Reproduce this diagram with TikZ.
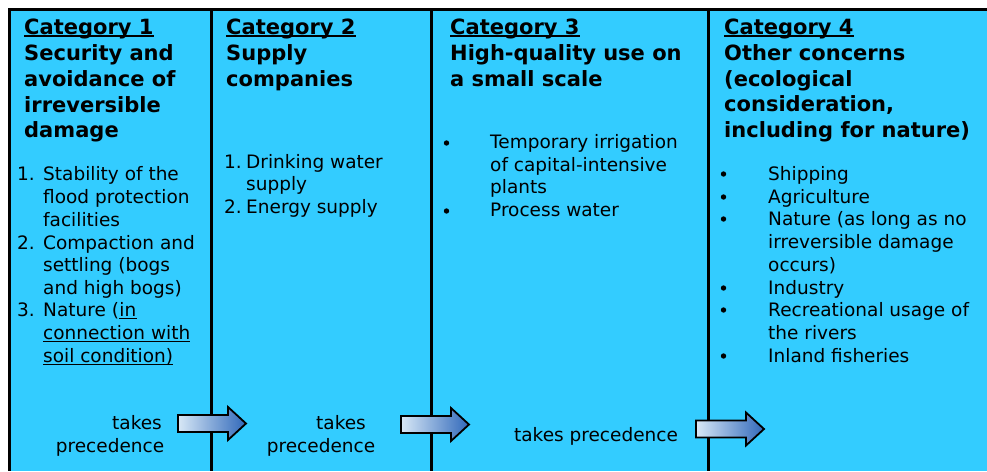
\documentclass[tikz,border=0pt]{standalone}
\usepackage{fontspec}
\setmainfont{DejaVu Sans}
\definecolor{bg}{RGB}{51,204,255}
\definecolor{arL}{RGB}{216,232,246}
\definecolor{arR}{RGB}{48,104,186}
\newcommand\hdfont{\fontsize{21}{25}\selectfont\bfseries}
\newcommand\bdfont{\fontsize{18.5}{22}\selectfont}
\tikzset{
  hd/.style={anchor=base west, inner sep=0pt, font=\hdfont},
  bd/.style={anchor=base west, inner sep=0pt, font=\bdfont},
  prec/.style={anchor=base, inner sep=0pt, font=\bdfont},
  frame/.style={line width=3pt, black},
  catul/.style={line width=1.8pt, black},
  thinul/.style={line width=0.9pt, black},
  bullet/.style={black},
  arrowbox/.style={draw=black, line width=1.8pt, line join=miter, left color=arL, right color=arR}
}
\newcommand\precarrow[2]{%
  \shadedraw[arrowbox] (#1,#2) ++(0,-8.5) -- ++(50,0) -- ++(0,-8) -- ++(18,16.5) -- ++(-18,16.5) -- ++(0,-8) -- ++(-50,0) -- cycle;}
\begin{document}
\begin{tikzpicture}[x=1pt,y=-1pt]
\useasboundingbox (0,0) rectangle (987,471);
\fill[bg] (8,8) rectangle (987,471);
% frame and dividers
\draw[frame] (8,9.5) -- (987,9.5);
\draw[frame] (9.5,8) -- (9.5,471);
\draw[frame] (211,9) -- (211,471);
\draw[frame] (431,9) -- (431,471);
\draw[frame] (708.5,9) -- (708.5,471);

% ---- Column 1
\node[hd] (c1) at (24,34) {Category 1};
\draw[catul] ([yshift=-2pt]c1.base west) -- ([yshift=-2pt]c1.base east);
\node[hd] (h1a) at (24,60) {Security and};
\node[hd] (h1b) at (24,86) {avoidance of};
\node[hd] (h1c) at (24,112) {irreversible};
\node[hd] (h1d) at (24,137) {damage};
\node[bd] (n11) at (17,180) {1.};
\node[bd] (t11a) at (43,180) {Stability of the};
\node[bd] (t11b) at (43,203) {flood protection};
\node[bd] (t11c) at (43,226) {facilities};
\node[bd] (n12) at (17,249) {2.};
\node[bd] (t12a) at (43,249) {Compaction and};
\node[bd] (t12b) at (43,271) {settling (bogs};
\node[bd] (t12c) at (43,294) {and high bogs)};
\node[bd] (n13) at (17,316) {3.};
\node[bd] (t13a) at (43,316) {Nature (};
\node[bd] (t13b) at (t13a.base east) {in};
\node[bd] (t13c) at (43,339) {connection with};
\node[bd] (t13d) at (43,362) {soil condition)};
\draw[thinul] ([yshift=-2pt]t13b.base west) -- ([yshift=-2pt]t13b.base east);
\draw[thinul] ([yshift=-2pt]t13c.base west) -- ([yshift=-2pt]t13c.base east);
\draw[thinul] ([yshift=-2pt]t13d.base west) -- ([yshift=-2pt]t13d.base east);
\node[prec] (p1a) at (137,429) {takes};
\node[prec] (p1b) at (110,452) {precedence};

% ---- Column 2
\node[hd] (c2) at (226,34) {Category 2};
\draw[catul] ([yshift=-2pt]c2.base west) -- ([yshift=-2pt]c2.base east);
\node[hd] (h2a) at (226,60) {Supply};
\node[hd] (h2b) at (226,86) {companies};
\node[bd] (n21) at (224,168) {1.};
\node[bd] (t21a) at (246,168) {Drinking water};
\node[bd] (t21b) at (246,190) {supply};
\node[bd] (n22) at (224,213) {2.};
\node[bd] (t22a) at (246,213) {Energy supply};
\node[prec] (p2a) at (341,429) {takes};
\node[prec] (p2b) at (321,452) {precedence};

% ---- Column 3
\node[hd] (c3) at (450,34) {Category 3};
\draw[catul] ([yshift=-2pt]c3.base west) -- ([yshift=-2pt]c3.base east);
\node[hd] (h3a) at (450,60) {High-quality use on};
\node[hd] (h3b) at (450,86) {a small scale};
\fill[bullet] (446.5,143) circle (2.7);
\node[bd] (t31a) at (490,148) {Temporary irrigation};
\node[bd] (t31b) at (490,171) {of capital-intensive};
\node[bd] (t31c) at (490,193) {plants};
\fill[bullet] (446.5,211) circle (2.7);
\node[bd] (t32a) at (490,216) {Process water};
\node[prec] (p3) at (596,441) {takes precedence};

% ---- Column 4
\node[hd] (c4) at (724,34) {Category 4};
\draw[catul] ([yshift=-2pt]c4.base west) -- ([yshift=-2pt]c4.base east);
\node[hd] (h4a) at (724,60) {Other concerns};
\node[hd] (h4b) at (724,86) {(ecological};
\node[hd] (h4c) at (724,111) {consideration,};
\node[hd] (h4d) at (724,137) {including for nature)};
\fill[bullet] (723.5,174) circle (2.7);
\node[bd] (t41) at (768,180) {Shipping};
\fill[bullet] (723.5,197) circle (2.7);
\node[bd] (t42) at (768,203) {Agriculture};
\fill[bullet] (723.5,219) circle (2.7);
\node[bd] (t43a) at (768,225) {Nature (as long as no};
\node[bd] (t43b) at (768,248) {irreversible damage};
\node[bd] (t43c) at (768,271) {occurs)};
\fill[bullet] (723.5,288) circle (2.7);
\node[bd] (t44) at (768,294) {Industry};
\fill[bullet] (723.5,310) circle (2.7);
\node[bd] (t45a) at (768,316) {Recreational usage of};
\node[bd] (t45b) at (768,339) {the rivers};
\fill[bullet] (723.5,356) circle (2.7);
\node[bd] (t46) at (768,362) {Inland fisheries};

% ---- arrows
\precarrow{178}{423.5}
\precarrow{401}{424.5}
\precarrow{696}{429}
\end{tikzpicture}
\end{document}
